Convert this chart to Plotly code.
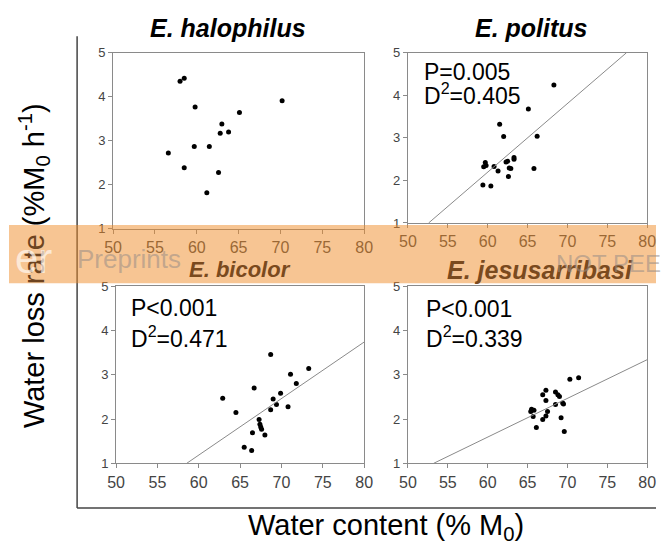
import plotly.graph_objects as go
import numpy as np

# ---------------- data ----------------
species = ["E. halophilus", "E. politus", "E. bicolor", "E. jesusarribasi"]

halophilus_x = [56.6, 58.0, 58.5, 59.8, 58.5, 59.7, 61.5, 61.2, 62.6, 62.8, 63.0, 63.8, 65.1, 70.2]
halophilus_y = [2.72, 4.35, 4.42, 3.77, 2.39, 2.87, 2.87, 1.82, 2.28, 3.17, 3.38, 3.20, 3.64, 3.91]

politus_x = [68.3, 65.1, 61.5, 62.0, 66.2, 59.4, 60.4, 59.5, 59.7, 59.8, 60.8, 61.3, 62.3, 62.5,
             62.6, 62.7, 62.9, 63.3, 63.3, 65.8]
politus_y = [4.24, 3.68, 3.32, 3.03, 3.04, 1.89, 1.87, 2.32, 2.42, 2.35, 2.33, 2.22, 2.43, 2.45,
             2.09, 2.29, 2.28, 2.50, 2.54, 2.28]

bicolor_x = [62.9, 64.5, 66.7, 68.7, 71.1, 73.3, 71.8, 69.9, 69.0, 69.4, 68.7, 70.8, 67.3, 67.4,
             67.5, 67.6, 68.0, 66.5, 65.5, 66.4]
bicolor_y = [2.47, 2.15, 2.70, 3.46, 3.01, 3.14, 2.80, 2.58, 2.45, 2.33, 2.21, 2.28, 1.99, 1.88,
             1.82, 1.77, 1.64, 1.69, 1.36, 1.29]

jesus_x = [70.3, 71.4, 67.3, 66.9, 67.3, 68.5, 68.8, 69.0, 68.5, 69.4, 69.5, 65.5, 65.4, 65.8,
           65.7, 67.5, 67.3, 66.9, 66.1, 69.2, 69.6]
jesus_y = [2.90, 2.93, 2.65, 2.55, 2.42, 2.61, 2.55, 2.51, 2.33, 2.36, 2.34, 2.22, 2.17, 2.20,
           2.06, 2.17, 2.07, 1.99, 1.81, 2.03, 1.72]

# regression lines (slope, intercept); None = no line
fit_slope = [None, 0.1613, 0.1277, 0.0875]
fit_intercept = [None, -7.484, -6.477, -3.658]

stat_p = [None, "P=0.005", "P<0.001", "P<0.001"]
stat_d2 = [None, "0.405", "0.471", "0.339"]

x_ticks = [50, 55, 60, 65, 70, 75, 80]
y_ticks = [1, 2, 3, 4, 5]

# ---------------- layout helpers ----------------
W, H = 665, 554
def px(x):
    return x / W
def py(y):
    return 1 - y / H

FONT = "Liberation Sans, Arial"

# panel boxes in pixels: (left, right, top, bottom)
boxes = [(107, 365, 47, 228), (410, 656, 47, 222), (110, 365, 287, 469), (410, 656, 287, 469)]

xs = [halophilus_x, politus_x, bicolor_x, jesus_x]
ys = [halophilus_y, politus_y, bicolor_y, jesus_y]

fig = go.Figure()
grey = "#8a8a8a"
tickcol = "#444444"

for i in range(4):
    n = "" if i == 0 else str(i + 1)
    xa, ya = "x" + n, "y" + n
    fig.add_trace(go.Scatter(x=xs[i], y=ys[i], mode="markers", xaxis=xa, yaxis=ya,
                             marker=dict(color="black", size=5), showlegend=False,
                             hoverinfo="skip"))
    if fit_slope[i] is not None:
        m, b = fit_slope[i], fit_intercept[i]
        x0 = max(50, (1 - b) / m)
        x1 = min(80, (5 - b) / m)
        fig.add_trace(go.Scatter(x=[x0, x1], y=[m * x0 + b, m * x1 + b], mode="lines",
                                 xaxis=xa, yaxis=ya, line=dict(color=grey, width=1),
                                 showlegend=False, hoverinfo="skip"))
    l, r, t, btm = boxes[i]
    fig.layout["xaxis" + n] = dict(domain=[px(l), px(r)], anchor=ya, range=[50, 80],
                                   tickvals=x_ticks, showline=True, mirror=True, linecolor=grey,
                                   linewidth=1, ticks="outside", ticklen=4, tickcolor=grey,
                                   showgrid=False, zeroline=False,
                                   tickfont=dict(family=FONT, size=16, color=tickcol))
    fig.layout["yaxis" + n] = dict(domain=[py(btm), py(t)], anchor=xa, range=[1, 5],
                                   tickvals=y_ticks, showline=True, mirror=True, linecolor=grey,
                                   linewidth=1, ticks="outside", ticklen=4, tickcolor=grey,
                                   showgrid=False, zeroline=False,
                                   tickfont=dict(family=FONT, size=13, color=tickcol))

annotations = []
# panel titles
title_pos = [(225, 22, "black", 25), (537, 22, "black", 25), (237, 270, "#7a4a1e", 22),
             (546, 270, "#7a4a1e", 25)]
for i, (cx, cy, col, fs) in enumerate(title_pos):
    annotations.append(dict(x=px(cx), y=py(cy), xref="paper", yref="paper",
                            text="<b><i>%s</i></b>" % species[i],
                            showarrow=False, xanchor="center", yanchor="middle",
                            font=dict(family=FONT, size=fs, color=col)))

# statistics text
stat_pos = [None, (425, 67, 89), (123, 309, 339), (427, 310, 339)]
for i in range(4):
    if stat_p[i] is None:
        continue
    lx, y1, y2 = stat_pos[i]
    annotations.append(dict(x=px(lx), y=py(y1), xref="paper", yref="paper", text=stat_p[i],
                            showarrow=False, xanchor="left", yanchor="middle",
                            font=dict(family=FONT, size=23, color="black")))
    annotations.append(dict(x=px(lx), y=py(y2), xref="paper", yref="paper",
                            text="D<sup>2</sup>=" + stat_d2[i],
                            showarrow=False, xanchor="left", yanchor="middle",
                            font=dict(family=FONT, size=23, color="black")))

# axis titles
annotations.append(dict(x=px(387), y=py(534), xref="paper", yref="paper",
                        text="Water content (% M<sub>0</sub>)", showarrow=False,
                        xanchor="center", yanchor="middle",
                        font=dict(family=FONT, size=29, color="black")))
annotations.append(dict(x=px(25), y=py(266), xref="paper", yref="paper",
                        text="Water loss <span style='color:#6e4420'>rate</span> (%M<sub>0</sub> h<sup>-1</sup>)",
                        showarrow=False, textangle=-90, xanchor="center", yanchor="middle",
                        font=dict(family=FONT, size=29, color="black")))

# watermark texts
annotations.append(dict(x=px(46), y=py(258), xref="paper", yref="paper", text="er",
                        showarrow=False, xanchor="right", yanchor="middle",
                        font=dict(family=FONT, size=42, color="rgba(255,250,245,0.7)")))
annotations.append(dict(x=px(68), y=py(259), xref="paper", yref="paper", text="Preprints",
                        showarrow=False, xanchor="left", yanchor="middle",
                        font=dict(family=FONT, size=26, color="rgba(150,140,135,0.55)")))
annotations.append(dict(x=px(560), y=py(264), xref="paper", yref="paper", text="NOT PEE",
                        showarrow=False, xanchor="left", yanchor="middle",
                        font=dict(family=FONT, size=24, color="rgba(150,140,135,0.55)")))

shapes = [
    dict(type="line", xref="paper", yref="paper", x0=px(70), x1=px(70), y0=py(30), y1=py(515),
         line=dict(color="#444444", width=1.5)),
    dict(type="line", xref="paper", yref="paper", x0=px(70), x1=1, y0=py(515), y1=py(515),
         line=dict(color="#444444", width=1.5)),
    dict(type="rect", xref="paper", yref="paper", x0=0, x1=1, y0=py(284), y1=py(224),
         fillcolor="rgba(240,140,40,0.5)", line=dict(width=0), layer="above"),
]

fig.update_layout(width=W, height=H, margin=dict(l=0, r=0, t=0, b=0),
                  paper_bgcolor="white", plot_bgcolor="white",
                  annotations=annotations, shapes=shapes, showlegend=False)

fig.write_html("out.html")
